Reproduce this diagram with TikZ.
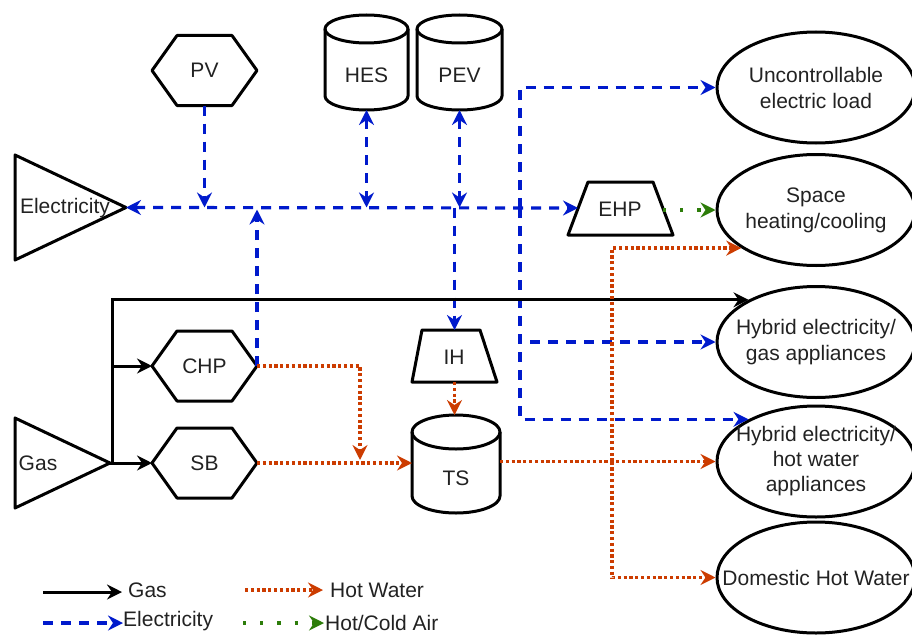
\documentclass[tikz,border=0pt]{standalone}
\usepackage{fontspec}
\setmainfont{Liberation Sans}
\usetikzlibrary{shapes.geometric,arrows.meta,calc}
\definecolor{eblue}{RGB}{0,26,204}
\definecolor{hwred}{RGB}{204,60,0}
\definecolor{agreen}{RGB}{45,125,10}
\definecolor{txt}{RGB}{34,34,34}
\tikzset{
  shp/.style={draw=black, line width=3pt, line join=round},
  lbl/.style={inner sep=0pt, font=\fontsize{21}{26}\selectfont, text=txt, align=center},
  box/.style={inner sep=0pt, outer sep=0pt},
  tip/.style={-{Stealth[length=15pt,width=15pt,inset=5pt]}},
  tipboth/.style={{Stealth[length=15pt,width=15pt,inset=5pt]}-{Stealth[length=15pt,width=15pt,inset=5pt]}},
  gasln/.style={line width=3pt, black},
  elecln/.style={line width=3.2pt, eblue, dash pattern=on 10pt off 8pt},
  hwln/.style={line width=3.4pt, hwred, dash pattern=on 3.2pt off 2.6pt},
  airln/.style={line width=3.2pt, agreen, dash pattern=on 3.2pt off 14pt},
  load/.style={ellipse, draw=black, line width=3pt, minimum width=198pt, minimum height=111pt, inner sep=0pt},
}
\newcommand\hexoutline[1]{\draw[shp] (#1.west) -- ($(#1.north west)+(25,0)$) -- ($(#1.north east)+(-25,0)$) -- (#1.east) -- ($(#1.south east)+(-25,0)$) -- ($(#1.south west)+(25,0)$) -- cycle;}
\begin{document}
\begin{tikzpicture}[x=1pt,y=-1pt]
\useasboundingbox (0,0) rectangle (912,634);

% ---- sources
\node[box, minimum width=111pt, minimum height=105pt] (elec) at (70.5,207.5) {};
\draw[shp] (elec.north west) -- (elec.east) -- (elec.south west) -- cycle;
\node[lbl] (elec-t) at (65,208) {Electricity};

\node[box, minimum width=95pt, minimum height=90pt] (gas) at (62.5,463) {};
\draw[shp] (gas.north west) -- (gas.east) -- (gas.south west) -- cycle;
\node[lbl] (gas-t) at (38,463) {Gas};

% ---- hexagons
\node[box, minimum width=105pt, minimum height=70pt] (pv) at (204.5,70.5) {};
\hexoutline{pv}
\node[lbl] (pv-t) at (pv) {PV};
\node[box, minimum width=105pt, minimum height=70pt] (chp) at (204.5,366) {};
\hexoutline{chp}
\node[lbl] (chp-t) at (chp) {CHP};
\node[box, minimum width=105pt, minimum height=70pt] (sb) at (204.5,463) {};
\hexoutline{sb}
\node[lbl] (sb-t) at (sb) {SB};

% ---- cylinders
\node[box, minimum width=83pt, minimum height=95pt] (hes) at (366.5,62.5) {};
\draw[shp] (325,29) -- (325,96) arc[start angle=180,end angle=0,x radius=41.5,y radius=14] -- (408,29);
\draw[shp] (366.5,29) ellipse[x radius=41.5,y radius=14];
\node[lbl] (hes-t) at (366.5,75) {HES};

\node[box, minimum width=85pt, minimum height=95pt] (pev) at (459.5,62.5) {};
\draw[shp] (417,29) -- (417,96) arc[start angle=180,end angle=0,x radius=42.5,y radius=14] -- (502,29);
\draw[shp] (459.5,29) ellipse[x radius=42.5,y radius=14];
\node[lbl] (pev-t) at (459.5,75) {PEV};

\node[box, minimum width=88pt, minimum height=98pt] (ts) at (456,464) {};
\draw[shp] (412,432) -- (412,496) arc[start angle=180,end angle=0,x radius=44,y radius=17] -- (500,432);
\draw[shp] (456,432) ellipse[x radius=44,y radius=17];
\node[lbl] (ts-t) at (456,478) {TS};

% ---- trapezoids
\node[box, minimum width=105pt, minimum height=53pt] (ehp) at (620.5,208.5) {};
\draw[shp] (ehp.south west) -- ($(ehp.north west)+(20,0)$) -- ($(ehp.north east)+(-20,0)$) -- (ehp.south east) -- cycle;
\node[lbl] (ehp-t) at (620,209) {EHP};
\coordinate (ehp-in) at (578,208);
\coordinate (ehp-out) at (663,208);

\node[box, minimum width=85pt, minimum height=52pt] (ih) at (454.5,356) {};
\draw[shp] (ih.south west) -- ($(ih.north west)+(10,0)$) -- ($(ih.north east)+(-17,0)$) -- (ih.south east) -- cycle;
\node[lbl] (ih-t) at (454,357) {IH};

% ---- loads
\node[load] (ul) at (816,87.5) {};
\node[lbl] (ul-t) at (ul) {Uncontrollable\\electric load};
\node[load] (sh) at (816,210) {};
\node[lbl] (sh-t) at (sh) {Space\\heating/cooling};
\node[load] (hg) at (816,342) {};
\node[lbl] (hg-t) at (hg) {Hybrid electricity/\\gas appliances};
\node[load] (hw) at (816,461.5) {};
\node[lbl, font=\fontsize{21}{25}\selectfont] (hw-t) at (hw) {Hybrid electricity/\\hot water\\appliances};
\node[load] (dhw) at (816,577.5) {};
\node[lbl] (dhw-t) at (dhw) {Domestic Hot Water};

% ---- electricity connectors
\draw[elecln,tipboth] (elec.east) -- (ehp-in);
\draw[elecln,tip] (pv.south) -- (pv.south |- elec.east);
\draw[elecln,tipboth] (hes.south) -- (hes.south |- elec.east);
\draw[elecln,tipboth] (pev.south) -- (pev.south |- elec.east);
\draw[elecln,tip] (chp.east) -- ($(chp.east |- elec.east)+(0,2)$);
\draw[elecln,tip] (ih.north |- elec.east) -- (ih.north);
\coordinate (j520) at (520,208);
\draw[elecln,tip] (j520) |- (ul.west);
\draw[elecln,tip] (j520) |- (hg.west);
\draw[elecln,tip] (j520) |- (hw.148);

% ---- gas connectors
\coordinate (gj) at ($(gas.east)+(2,0)$);
\draw[gasln,tip] (gas.east) -- (sb.west);
\draw[gasln,tip] (gj) |- (hg.148);
\draw[gasln,tip] (gj |- chp.west) -- (chp.west);

% ---- hot water connectors
\coordinate (jhw) at (360,460);
\draw[hwln,tip] (chp.east) -| (jhw);
\draw[hwln,tip] (sb.east) -- (ts.west |- sb.east);
\draw[hwln,tip] (ih.south) -- (ih.south |- ts.north);
\draw[hwln,tip] (ts.east |- hw.west) -- (hw.west);
\coordinate (rj) at (612,461.5);
\draw[hwln,tip] (rj) |- (sh.207);
\draw[hwln,tip] (rj) |- (dhw.west);

% ---- air
\draw[airln,tip] (ehp-out |- sh.west) -- (sh.west);

% ---- legend
\coordinate (lga) at (43,592);  \coordinate (lgb) at (122,592);
\draw[gasln,tip] (lga) -- (lgb);
\node[lbl, anchor=west] (lg-gas) at (128,590) {Gas};
\coordinate (lwa) at (245,590); \coordinate (lwb) at (323,590);
\draw[hwln,tip] (lwa) -- (lwb);
\node[lbl, anchor=west] (lg-hw) at (330,590) {Hot Water};
\coordinate (lea) at (43,623);  \coordinate (leb) at (123,623);
\draw[elecln,tip] (lea) -- (leb);
\node[lbl, anchor=west] (lg-el) at (123,621) {Electricity};
\coordinate (laa) at (243,623); \coordinate (lab) at (324,623);
\draw[airln,tip] (laa) -- (lab);
\node[lbl, anchor=west] (lg-air) at (325,623) {Hot/Cold Air};
\end{tikzpicture}
\end{document}
